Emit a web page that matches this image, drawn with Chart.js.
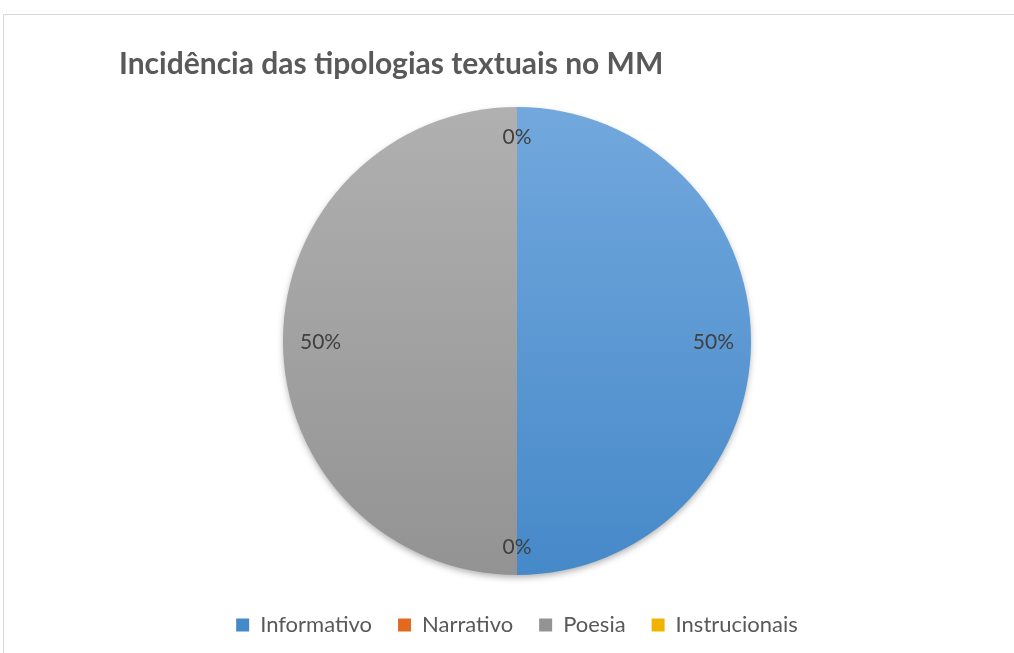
<!DOCTYPE html>
<html lang="pt">
<head>
    <meta charset="UTF-8">
    <title>Incidência das tipologias textuais no MM</title>
    <script src="https://cdn.jsdelivr.net/npm/chart.js"></script>
    <style>
        body { margin: 0; padding: 0; background: #fff; overflow: hidden; }
        #frame {
            position: absolute; left: 3px; top: 14px;
            width: 1100px; height: 700px;
            border: 1px solid #d9d9d9;
        }
        #wrap { position: absolute; left: 0; top: 0; width: 1014px; height: 653px; }
    </style>
</head>
<body>
<div id="frame"></div>
<div id="wrap"><canvas id="pie"></canvas></div>

<script>
    // data
    const categories = ['Informativo', 'Narrativo', 'Poesia', 'Instrucionais'];
    const values = [50, 0, 50, 0];
    const topColors = ['#72a8dd', '#f08a45', '#b0b0b0', '#ffc926'];
    const bottomColors = ['#4689c9', '#e06a20', '#939393', '#f0b400'];

    const font = 'Lato, "Open Sans", sans-serif';
    const textGray = '#595959';

    // vertical gradient like the excel style
    function sliceFill(ctx) {
        const i = ctx.dataIndex;
        const area = ctx.chart.chartArea;
        if (!area) return topColors[i];
        const g = ctx.chart.ctx.createLinearGradient(0, area.top, 0, area.bottom);
        g.addColorStop(0, topColors[i]);
        g.addColorStop(1, bottomColors[i]);
        return g;
    }

    // soft shadow under the whole pie
    const pieShadow = {
        id: 'pieShadow',
        beforeDatasetsDraw(chart) {
            const arc = chart.getDatasetMeta(0).data[0];
            if (!arc) return;
            const c = chart.ctx;
            c.save();
            c.shadowColor = 'rgba(0,0,0,0.35)';
            c.shadowBlur = 7;
            c.shadowOffsetY = 3;
            c.fillStyle = '#a0a0a0';
            c.beginPath();
            c.arc(arc.x, arc.y, arc.outerRadius - 1, 0, Math.PI * 2);
            c.fill();
            c.restore();
        }
    };

    // percent labels placed inside the end of each slice
    const pctLabels = {
        id: 'pctLabels',
        afterDatasetsDraw(chart) {
            const c = chart.ctx;
            const total = values.reduce((a, b) => a + b, 0);
            c.save();
            c.font = '21px ' + font;
            c.fillStyle = '#404040';
            c.textAlign = 'center';
            c.textBaseline = 'middle';
            chart.getDatasetMeta(0).data.forEach((arc, i) => {
                const p = arc.getProps(['x', 'y', 'startAngle', 'endAngle', 'outerRadius'], true);
                const mid = (p.startAngle + p.endAngle) / 2;
                const txt = Math.round(values[i] / total * 100) + '%';
                const hw = c.measureText(txt).width / 2;
                const hh = 12;
                const d = p.outerRadius - 17 - Math.abs(Math.cos(mid)) * hw - Math.abs(Math.sin(mid)) * hh;
                c.fillText(txt, p.x + Math.cos(mid) * d, p.y + Math.sin(mid) * d + 1);
            });
            c.restore();
        }
    };

    new Chart(document.getElementById('pie'), {
        type: 'pie',
        data: {
            labels: categories,
            datasets: [{
                data: values,
                backgroundColor: sliceFill,
                borderWidth: 0
            }]
        },
        options: {
            responsive: true,
            maintainAspectRatio: false,
            animation: false,
            layout: { padding: { left: 119, right: 99, top: 0, bottom: 7 } },
            plugins: {
                title: {
                    display: true,
                    text: 'Incidência das tipologias textuais no MM',
                    align: 'start',
                    color: textGray,
                    font: { family: font, size: 30, weight: 'bold' },
                    padding: { top: 46.5, bottom: 24.5 }
                },
                // spacer between pie and legend
                subtitle: {
                    display: true,
                    position: 'bottom',
                    text: '',
                    weight: 500,
                    font: { size: 10.8 },
                    padding: 0
                },
                legend: {
                    position: 'bottom',
                    labels: {
                        color: textGray,
                        font: { family: font, size: 22 },
                        boxWidth: 13,
                        boxHeight: 13,
                        padding: 26,
                        generateLabels(chart) {
                            return categories.map((name, i) => ({
                                text: name,
                                fillStyle: bottomColors[i],
                                strokeStyle: bottomColors[i],
                                lineWidth: 0,
                                fontColor: textGray,
                                index: i
                            }));
                        }
                    }
                },
                tooltip: { enabled: false }
            }
        },
        plugins: [pieShadow, pctLabels]
    });
</script>
</body>
</html>
